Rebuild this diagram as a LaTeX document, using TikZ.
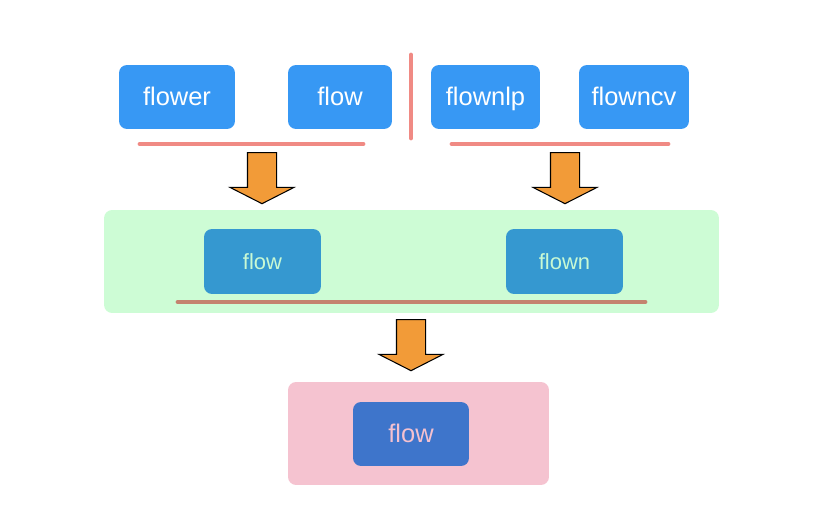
\documentclass[tikz,border=0pt]{standalone}
\usepackage{fontspec}
\setmainfont{Liberation Sans}
\usetikzlibrary{shapes.arrows}

\definecolor{topblue}{HTML}{3798F4}
\definecolor{midblue}{HTML}{3598D0}
\definecolor{lowblue}{HTML}{3E75CB}
\definecolor{greenpanel}{HTML}{CDFCD5}
\definecolor{pinkpanel}{HTML}{F5C3D0}
\definecolor{salmonline}{HTML}{F08A84}
\definecolor{brownline}{HTML}{C4836F}
\definecolor{arroworange}{HTML}{F29B38}
\definecolor{greentext}{HTML}{C8F9D4}
\definecolor{pinktext}{HTML}{F4C1CF}

\begin{document}
\begin{tikzpicture}[
    x=0.02cm, y=-0.02cm,
    box/.style={rounded corners=0.16cm, inner sep=0pt, minimum height=1.28cm,
        text height=0.95em, text depth=0pt},
    topbox/.style={box, fill=topblue, text=white, font=\fontsize{14.5}{17}\selectfont},
    panel/.style={rounded corners=0.16cm, inner sep=0pt, minimum width=#1, minimum height=2.06cm},
    bar/.style={line width=2.8pt, line cap=round},
    bigarrow/.style={single arrow, draw=black, line width=0.6pt, fill=arroworange,
        minimum width=1.26cm, minimum height=1.02cm, single arrow head extend=0.35cm,
        single arrow tip angle=126, inner sep=0.28cm, shape border rotate=270}
]
\useasboundingbox (0,0) rectangle (828,526);

% Fila superior
\node[topbox, minimum width=2.32cm] (flower) at (177,97) {flower};
\node[topbox, minimum width=2.08cm] (flow) at (340,97) {flow};
\node[topbox, minimum width=2.18cm] (flownlp) at (485.5,97) {flownlp};
\node[topbox, minimum width=2.2cm] (flowncv) at (634,97) {flowncv};

% Separador y subrayados
\draw[bar, salmonline] (411,55) -- (411,138);
\draw[bar, salmonline] (140,144) -- (363,144);
\draw[bar, salmonline] (452,144) -- (668,144);

% Flechas hacia el panel verde
\node[bigarrow] (arrowleft) at (262,174.5) {};
\node[bigarrow] (arrowright) at (565,174.5) {};

% Panel verde
\node[panel=12.3cm, fill=greenpanel] (green) at (411.5,261.5) {};
\node[box, fill=midblue, text=greentext, minimum width=2.34cm, minimum height=1.3cm,
      font=\fontsize{12.5}{15}\selectfont] (midflow) at (262.5,261.5) {flow};
\node[box, fill=midblue, text=greentext, minimum width=2.34cm, minimum height=1.3cm,
      font=\fontsize{12.5}{15}\selectfont] (flown) at (564.5,261.5) {flown};
\draw[bar, brownline] (178,302) -- (645,302);

% Flecha hacia el panel rosa
\node[bigarrow] (arrowdown) at (411,341.5) {};

% Panel rosa
\node[panel=5.22cm, fill=pinkpanel] (pink) at (418.5,433.5) {};
\node[box, fill=lowblue, text=pinktext, minimum width=2.32cm,
      font=\fontsize{14.5}{17}\selectfont] (lowflow) at (411,434) {flow};

\end{tikzpicture}
\end{document}
